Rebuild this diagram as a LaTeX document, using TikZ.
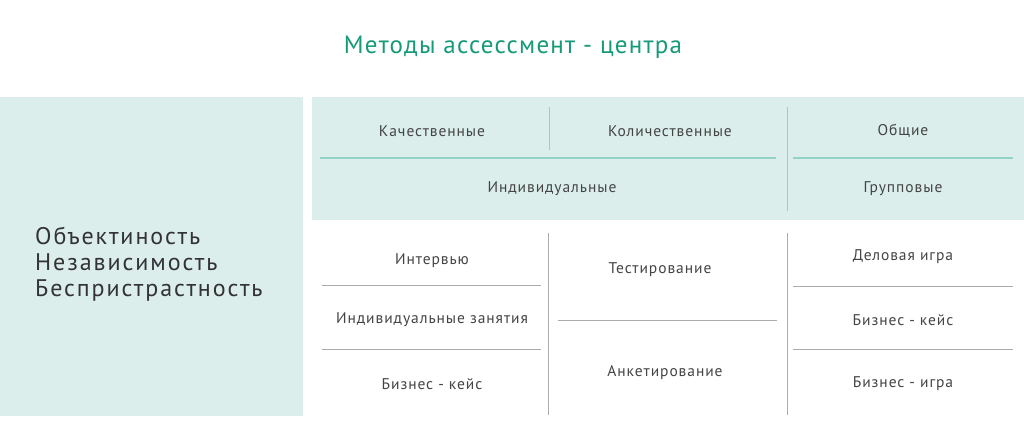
\documentclass[tikz,border=0pt]{standalone}
\usepackage{fontspec}
\setmainfont{PT Sans}
\newfontfamily\lsleft[LetterSpace=8]{PT Sans}
\newfontfamily\lslbl[LetterSpace=6]{PT Sans}
\newfontfamily\lsttl[LetterSpace=5]{PT Sans}
\definecolor{panel}{HTML}{DBEEEC}
\definecolor{tline}{HTML}{93D2C8}
\definecolor{gline}{HTML}{ABABAB}
\definecolor{ttl}{HTML}{179A78}
\definecolor{txt}{HTML}{444444}
\definecolor{ltxt}{HTML}{333333}
\tikzset{
  lbl/.style={text=txt, font=\lslbl\fontsize{15.5}{18}\selectfont, inner sep=0pt, anchor=center},
  hline/.style={tline, line width=1.3pt},
  gl/.style={gline, line width=0.9pt},
}
\begin{document}
\begin{tikzpicture}[x=1pt,y=-1pt]
\useasboundingbox (0,0) rectangle (1024,433);
\fill[white] (0,0) rectangle (1024,433);
% panels
\fill[panel] (0,97) rectangle (303,416);
\fill[panel] (312,97) rectangle (1024,220);
% title
\node[text=ttl, font=\lsttl\fontsize{25}{30}\selectfont, inner sep=0pt] (title) at (513,47) {Методы ассессмент - центра};
% left text
\node[text=ltxt, font=\lsleft\fontsize{24}{26}\selectfont, align=left, anchor=west, inner sep=0pt] (left) at (35,264)
  {Объектиность\\Независимость\\Беспристрастность};
% header lines
\coordinate (hv1t) at (549,107); \coordinate (hv1b) at (549,150);
\coordinate (hv2t) at (787,107); \coordinate (hv2b) at (787,211);
\coordinate (hh1l) at (320,158); \coordinate (hh1r) at (776,158);
\coordinate (hh2l) at (793,158); \coordinate (hh2r) at (1013,158);
\draw[tline, line width=1pt] (hv1t) -- (hv1b);
\draw[tline, line width=1pt] (hv2t) -- (hv2b);
\draw[hline] (hh1l) -- (hh1r);
\draw[hline] (hh2l) -- (hh2r);
% header labels
\node[lbl] (kach) at (432,131) {Качественные};
\node[lbl] (kol) at (670,131) {Количественные};
\node[lbl] (obsh) at (903,131) {Общие};
\node[lbl] (ind) at (552,189) {Индивидуальные};
\node[lbl] (grp) at (903,189) {Групповые};
% body lines
\coordinate (bv1t) at (548,233); \coordinate (bv1b) at (548,415);
\coordinate (bv2t) at (787,233); \coordinate (bv2b) at (787,415);
\draw[gl] (bv1t) -- (bv1b);
\draw[gl] (bv2t) -- (bv2b);
\coordinate (l1a) at (322,285); \coordinate (l1b) at (541,285);
\coordinate (l2a) at (322,349); \coordinate (l2b) at (541,349);
\coordinate (m1a) at (558,320); \coordinate (m1b) at (777,320);
\coordinate (r1a) at (793,286); \coordinate (r1b) at (1013,286);
\coordinate (r2a) at (793,349); \coordinate (r2b) at (1013,349);
\draw[gl] (l1a) -- (l1b);
\draw[gl] (l2a) -- (l2b);
\draw[gl] (m1a) -- (m1b);
\draw[gl] (r1a) -- (r1b);
\draw[gl] (r2a) -- (r2b);
% body labels
\node[lbl] (intv) at (432,261) {Интервью};
\node[lbl] (indz) at (432,320) {Индивидуальные занятия};
\node[lbl] (bk1) at (432,384) {Бизнес - кейс};
\node[lbl] (test) at (660,270) {Тестирование};
\node[lbl] (ank) at (665,373) {Анкетирование};
\node[lbl] (dig) at (903,257) {Деловая игра};
\node[lbl] (bk2) at (903,320) {Бизнес - кейс};
\node[lbl] (big) at (903,384) {Бизнес - игра};
\end{tikzpicture}
\end{document}
